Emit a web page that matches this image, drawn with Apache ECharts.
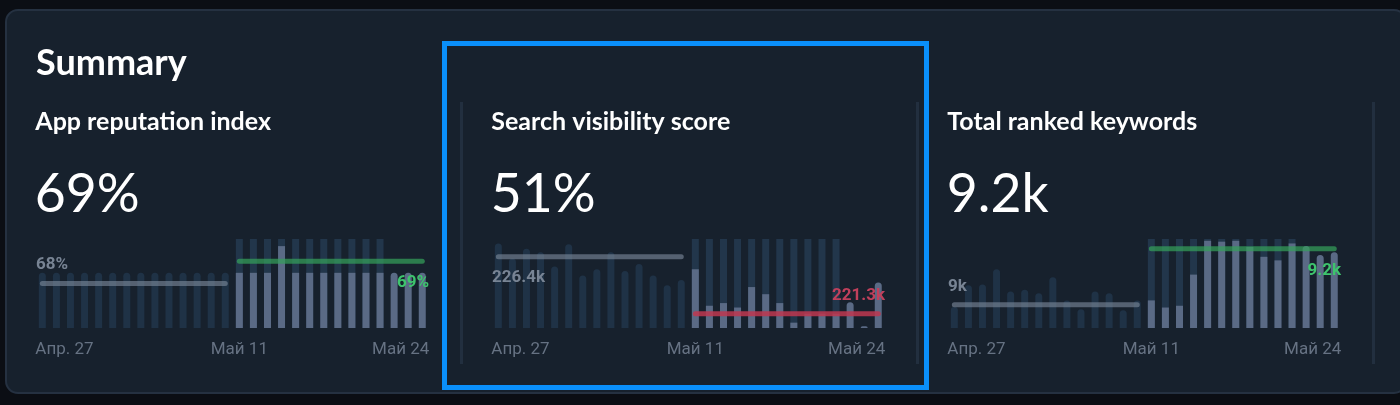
<!DOCTYPE html>
<html><head><meta charset="utf-8">
<style>html,body{margin:0;padding:0;background:#0b0e14;overflow:hidden}#c{width:1400px;height:405px}</style>
<script src="https://cdn.jsdelivr.net/npm/echarts@6/dist/echarts.min.js"></script>
</head><body><div id="c"></div>
<script>
const sectionTitle = 'Summary';
const cardTitles = ['App reputation index', 'Search visibility score', 'Total ranked keywords'];
const cardValues = ['69%', '51%', '9.2k'];
const tickLabels = ['Апр. 27', 'Май 11', 'Май 24'];
const days = Array.from({length: 28}, (_, i) => i);

const priorLabels = ['68%', '226.4k', '9k'];
const currentLabels = ['69%', '221.3k', '9.2k'];
const priorLevels = [50, 80, 26];
const currentLevels = [75, 16, 89];

const reputationPrior = [62,62,62,62,62,62,62,62,62,62,62,62,62,62];
const reputationCurrent = [62,62,62,92,62,62,62,62,62,62,62];
const reputationTail = [62,62,62];

const visibilityPrior = [95,78,89,85,69,94,59,66,85,64,72,59,48,54];
const visibilityCurrent = [66,25,28,23,46,38,28,6,16,16,16];
const visibilityTail = [29,2,51];

const keywordsPrior = [24,48,49,66,41,43,39,57,31,21,41,39,20,31];
const keywordsCurrent = [31,23,25,60,98,97,98,91,80,76,95];
const keywordsTail = [92,82,85];

const gridLefts = [35.3, 491.3, 947.3];
const seriesSets = [
  [reputationPrior, reputationCurrent, reputationTail],
  [visibilityPrior, visibilityCurrent, visibilityTail],
  [keywordsPrior, keywordsCurrent, keywordsTail]
];
const lineColors = ['rgba(52,160,90,0.72)', 'rgba(190,55,80,0.85)', 'rgba(52,160,90,0.72)'];
const labelColors = ['#3ec46d', '#c0405c', '#3ec46d'];
const priorLabelPos = [[36, 265], [492, 278], [948, 287]];
const currentLabelPos = [[429, 283], [885, 296], [1341, 271]];

const font = 'Lato';
const tickFont = 'Roboto';
const gray = '#667283';
const grids = [], xAxes = [], yAxes = [], series = [], graphics = [];

graphics.push({type:'rect', silent:true, z:0, shape:{x:6,y:10,width:1400,height:383,r:12},
  style:{fill:'#17212d', stroke:'#253141', lineWidth:2}});
graphics.push({type:'text', z:5, style:{x:36,y:63,text:sectionTitle,fill:'#fff',font:'700 36px '+font,verticalAlign:'middle'}});

gridLefts.forEach((left, i) => {
  const [prior, current, tail] = seriesSets[i];
  const g = i;
  grids.push({left, top:239, width:394, height:89, containLabel:false});
  xAxes.push({type:'category', gridIndex:g, data:days, show:false});
  xAxes.push({type:'value', gridIndex:g, min:-0.5, max:27.5, position:'bottom', splitLine:{show:false},
    axisLine:{show:false}, axisTick:{show:false},
    axisLabel:{customValues:[-0.5,14,27.5], alignMinLabel:'left', alignMaxLabel:'right', margin:13, color:gray,
      fontFamily:tickFont, fontSize:17, hideOverlap:false,
      formatter:v => v < 0 ? tickLabels[0] : v > 20 ? tickLabels[2] : tickLabels[1]}});
  yAxes.push({type:'value', gridIndex:g, min:0, max:100, show:false});
  const cat = g*2, val = g*2+1;
  const pad = n => Array(n).fill(null);
  series.push({name:'prior'+g, type:'bar', xAxisIndex:cat, yAxisIndex:g, barWidth:7, barGap:'-100%',
    data:prior.concat(pad(14)), itemStyle:{color:'#1f3246', borderRadius:[3.5,3.5,0,0]}, silent:true, z:2});
  series.push({name:'backing'+g, type:'bar', xAxisIndex:cat, yAxisIndex:g, barWidth:7, barGap:'-100%',
    data:pad(14).concat(current.map(() => 100), pad(3)), itemStyle:{color:'#22364b'}, silent:true, z:2});
  series.push({name:'current'+g, type:'bar', xAxisIndex:cat, yAxisIndex:g, barWidth:7, barGap:'-100%',
    data:pad(14).concat(current, pad(3)), itemStyle:{color:'#5a6a85'}, silent:true, z:3});
  series.push({name:'tail'+g, type:'bar', xAxisIndex:cat, yAxisIndex:g, barWidth:7, barGap:'-100%',
    data:pad(25).concat(tail), itemStyle:{color:'#5a6a85', borderRadius:[3.5,3.5,0,0]}, silent:true, z:3});
  series.push({name:'priorLevel'+g, type:'line', xAxisIndex:val, yAxisIndex:g, symbol:'none', silent:true, z:4,
    data:[[0,priorLevels[g]],[13,priorLevels[g]]],
    lineStyle:{color:'rgba(125,137,155,0.62)',width:5,cap:'round'}});
  series.push({name:'currentLevel'+g, type:'line', xAxisIndex:val, yAxisIndex:g, symbol:'none', silent:true, z:4,
    data:[[14,currentLevels[g]],[27,currentLevels[g]]],
    lineStyle:{color:lineColors[g],width:5,cap:'round'}});
  graphics.push({type:'text', z:5, style:{x:left,y:122,text:cardTitles[g],fill:'#fff',font:'700 25px '+font,verticalAlign:'middle'}});
  graphics.push({type:'text', z:5, style:{x:left-0.5,y:195,text:cardValues[g],fill:'#fff',font:'400 53.5px '+font,verticalAlign:'middle'}});
  graphics.push({type:'rect', silent:true, z:1, shape:{x:left+424.7,y:102,width:3,height:262}, style:{fill:'#222f3f'}});
  graphics.push({type:'text', z:6, style:{x:priorLabelPos[g][0],y:priorLabelPos[g][1],text:priorLabels[g],fill:'#788494',font:'700 17px '+tickFont,verticalAlign:'middle'}});
  graphics.push({type:'text', z:6, style:{x:currentLabelPos[g][0],y:currentLabelPos[g][1],text:currentLabels[g],fill:labelColors[g],font:'700 17px '+tickFont,align:'right',verticalAlign:'middle'}});
});
graphics.push({type:'rect', silent:true, z:7, shape:{x:444.5,y:43.5,width:482,height:344},
  style:{fill:'none', stroke:'#0a8ffa', lineWidth:5}});

const chart = echarts.init(document.getElementById('c'), null, {renderer:'canvas'});
chart.setOption({animation:false, backgroundColor:'#0b0e14', tooltip:{show:false}, legend:{show:false},
  grid:grids, xAxis:xAxes, yAxis:yAxes, series, graphic:{elements:graphics}});
</script></body></html>
